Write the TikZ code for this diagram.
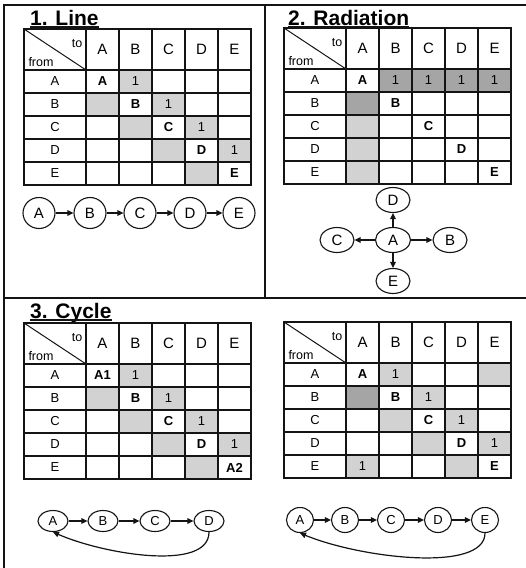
\documentclass[tikz,border=0pt]{standalone}
\usepackage{fontspec}
\setmainfont{Liberation Sans}
\usetikzlibrary{arrows.meta,positioning,shapes.geometric}
\definecolor{NetInk}{RGB}{20,20,20}
\definecolor{NetShade}{RGB}{210,210,210}
\definecolor{NetShadeDark}{RGB}{165,165,165}
\tikzset{
  net/frame/.style={draw=NetInk, line width=1.1pt},
  net/cell/.style={
    draw=NetInk,
    line width=1.2pt,
    fill=white,
    minimum width=33pt,
    minimum height=23pt,
    inner sep=0pt,
    outer sep=0pt,
    font=\fontsize{13}{13}\selectfont
  },
  net/corner/.style={net/cell, minimum width=62pt, minimum height=41pt},
  net/head/.style={net/cell, minimum height=41pt, font=\fontsize{15}{15}\selectfont},
  net/rowhead/.style={net/cell, minimum width=62pt},
  net/lit/.style={net/cell, fill=NetShade},
  net/dark/.style={net/cell, fill=NetShadeDark},
  net/self/.style={font=\fontsize{13}{13}\selectfont\bfseries, inner sep=0pt},
  net/corner label/.style={font=\fontsize{12.5}{12.5}\selectfont, inner sep=0pt},
  net/outer/.style={draw=NetInk, line width=1.8pt},
  net/title/.style={font=\fontsize{21}{21}\selectfont\bfseries, anchor=base west, inner sep=0pt},
  net/underline/.style={draw=NetInk, line width=1.3pt},
  net/vertex/.style={
    ellipse,
    draw=NetInk,
    line width=1.1pt,
    fill=white,
    inner sep=0pt,
    font=\fontsize{15}{15}\selectfont
  },
  net/arrow/.style={-{Triangle[length=6pt,width=5.5pt]}, line width=1.2pt, draw=NetInk}
}

% empty from/to grid, top left corner at (#2,#3)
\newcommand\netgrid[3]{%
  \node[net/corner] (#1-0-0) at (#2+31,#3+20.5) {};
  \draw[NetInk, line width=1pt] (#1-0-0.north west) -- (#1-0-0.south east);
  \node[net/corner label] (#1-to) at ([shift={(22,-5.5)}]#1-0-0) {to};
  \node[net/corner label] (#1-from) at ([shift={(-14,12.5)}]#1-0-0) {from};
  \foreach \c/\l in {1/A,2/B,3/C,4/D,5/E}{
    \node[net/head] (#1-0-\c) at (#2+62+33*\c-16.5,#3+20.5) {\l};
    \node[net/rowhead] (#1-\c-0) at (#2+31,#3+41+23*\c-11.5) {\l};
    \foreach \r in {1,...,5}
      \node[net/cell] (#1-\r-\c) at (#2+62+33*\c-16.5,#3+41+23*\r-11.5) {};
  }
}

\begin{document}
\begin{tikzpicture}[x=1pt,y=-1pt]
  \useasboundingbox (0,0) rectangle (526,568);

  % frame
  \draw[net/frame] (4,568) -- (4,5) -- (526,5);
  \draw[net/frame] (265,5) -- (265,298);
  \draw[net/frame] (4,298) -- (526,298);

  % 1. Line
  \node[net/title] (t1-title) at (30,25) {1. Line};
  \draw[net/underline] ([yshift=-2pt]t1-title.base west) -- ([yshift=-2pt]t1-title.base east);
  \netgrid{t1}{24}{29}
  \foreach \r/\c in {1/2,2/3,3/4,4/5}
    \node[net/lit] (t1-s\r\c) at (t1-\r-\c) {1};
  \foreach \r/\c in {2/1,3/2,4/3,5/4}
    \node[net/lit] (t1-s\r\c) at (t1-\r-\c) {};
  \foreach \r/\t in {1/A,2/B,3/C,4/D,5/E}
    \node[net/self] (t1-d\r) at (t1-\r-\r) {\t};
  \draw[net/outer] (t1-0-0.north west) rectangle (t1-5-5.south east);

  \foreach \i/\x in {A/39,B/90,C/140,D/190,E/239}
    \node[net/vertex, minimum width=32pt, minimum height=31pt] (g1\i) at (\x,213) {\i};
  \foreach \a/\b in {A/B,B/C,C/D,D/E}
    \draw[net/arrow] (g1\a) -- (g1\b);

  % 2. Radiation
  \node[net/title] (t2-title) at (288,25) {2. Radiation};
  \draw[net/underline] ([yshift=-2pt]t2-title.base west) -- ([yshift=-2pt]t2-title.base east);
  \netgrid{t2}{284}{28}
  \foreach \c in {2,...,5}
    \node[net/dark] (t2-s1\c) at (t2-1-\c) {1};
  \node[net/dark] (t2-s21) at (t2-2-1) {};
  \foreach \r in {3,4,5}
    \node[net/lit] (t2-s\r1) at (t2-\r-1) {};
  \foreach \r/\t in {1/A,2/B,3/C,4/D,5/E}
    \node[net/self] (t2-d\r) at (t2-\r-\r) {\t};
  \draw[net/outer] (t2-0-0.north west) rectangle (t2-5-5.south east);

  \node[net/vertex, minimum width=35pt, minimum height=25pt] (g2A) at (393,240) {A};
  \foreach \i/\x/\y in {B/450/240,C/337/240,D/393/200,E/393/281}{
    \node[net/vertex, minimum width=34pt, minimum height=25pt] (g2\i) at (\x,\y) {\i};
    \draw[net/arrow] (g2A) -- (g2\i);
  }

  % 3. Cycle
  \node[net/title] (t3-title) at (30,318) {3. Cycle};
  \draw[net/underline] ([yshift=-2pt]t3-title.base west) -- ([yshift=-2pt]t3-title.base east);
  \netgrid{t3}{24}{323}
  \foreach \r/\c in {1/2,2/3,3/4,4/5}
    \node[net/lit] (t3-s\r\c) at (t3-\r-\c) {1};
  \foreach \r/\c in {2/1,3/2,4/3,5/4}
    \node[net/lit] (t3-s\r\c) at (t3-\r-\c) {};
  \foreach \r/\t in {1/A1,2/B,3/C,4/D,5/A2}
    \node[net/self] (t3-d\r) at (t3-\r-\r) {\t};
  \draw[net/outer] (t3-0-0.north west) rectangle (t3-5-5.south east);

  \foreach \i/\x in {A/53,B/103,C/155,D/209}
    \node[net/vertex, minimum width=30pt, minimum height=21pt, font=\fontsize{13}{13}\selectfont] (g3\i) at (\x,521) {\i};
  \foreach \a/\b in {A/B,B/C,C/D}
    \draw[net/arrow] (g3\a) -- (g3\b);
  \draw[net/arrow] (g3D.south) .. controls +(0,40) and +(50,22) .. (g3A.south);

  \netgrid{t4}{284}{322}
  \foreach \r/\c in {1/2,2/3,3/4,4/5,5/1}
    \node[net/lit] (t4-s\r\c) at (t4-\r-\c) {1};
  \foreach \r/\c in {1/5,3/2,4/3,5/4}
    \node[net/lit] (t4-s\r\c) at (t4-\r-\c) {};
  \node[net/dark] (t4-s21) at (t4-2-1) {};
  \foreach \r/\t in {1/A,2/B,3/C,4/D,5/E}
    \node[net/self] (t4-d\r) at (t4-\r-\r) {\t};
  \draw[net/outer] (t4-0-0.north west) rectangle (t4-5-5.south east);

  \foreach \i/\x in {A/300,B/345,C/391,D/438,E/485}
    \node[net/vertex, minimum width=27pt, minimum height=25pt, font=\fontsize{13}{13}\selectfont] (g4\i) at (\x,520) {\i};
  \foreach \a/\b in {A/B,B/C,C/D,D/E}
    \draw[net/arrow] (g4\a) -- (g4\b);
  \draw[net/arrow] (g4E.south) .. controls +(0,40) and +(60,25) .. (g4A.south);
\end{tikzpicture}
\end{document}
